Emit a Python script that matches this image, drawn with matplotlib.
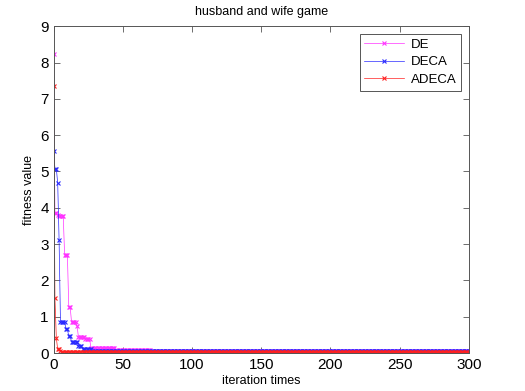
import numpy as np
import matplotlib
matplotlib.use("Agg")
import matplotlib.pyplot as plt

plt.rcParams['font.family'] = ['Liberation Sans', 'DejaVu Sans']

# Data as (value, run length) pairs; iterations 0..300
de_vals = [8.24, 3.85, 3.80, 3.77, 2.70, 1.27, 0.85, 0.75, 0.43, 0.40, 0.15, 0.13, 0.08, 0.05]
de_runs = [1, 2, 1, 4, 3, 2, 4, 1, 5, 4, 9, 9, 26, 230]

deca_vals = [5.57, 5.08, 4.68, 3.11, 0.85, 0.66, 0.46, 0.31, 0.20, 0.12, 0.06, 0.045]
deca_runs = [1, 2, 1, 1, 4, 2, 2, 5, 3, 7, 22, 251]

adeca_vals = [7.36, 1.52, 0.42, 0.10, 0.06, 0.025]
adeca_runs = [1, 1, 1, 2, 1, 295]

de = np.repeat(de_vals, de_runs)
deca = np.repeat(deca_vals, deca_runs)
adeca = np.repeat(adeca_vals, adeca_runs)
iters = np.arange(len(de))

x_ticks = [0, 50, 100, 150, 200, 250, 300]
y_ticks = [0, 1, 2, 3, 4, 5, 6, 7, 8, 9]

fig = plt.figure(figsize=(5.25, 3.91), dpi=100)
ax = fig.add_axes([0.102, 0.097, 0.791, 0.836])

kw = dict(marker='x', markersize=3.5, linewidth=0.5, markeredgewidth=0.8)
ax.plot(iters, de, color='#ff33ff', label='DE', **kw)
ax.plot(np.arange(len(deca)), deca, color='#2a2aff', label='DECA', **kw)
ax.plot(np.arange(len(adeca)), adeca, color='#ff2020', label='ADECA', **kw)

ax.set_xlim(0, 300)
ax.set_ylim(0, 9)
ax.set_xticks(x_ticks)
ax.set_yticks(y_ticks)
ax.tick_params(direction='in', top=True, right=True, labelsize=11, length=4, width=0.6, colors='#555555', labelcolor='black')
for s in ax.spines.values():
    s.set_color('#555555')
    s.set_linewidth(0.7)

ax.set_title('husband and wife game', fontsize=9, pad=8)
ax.set_xlabel('iteration times', fontsize=9, labelpad=2)
ax.set_ylabel('fitness value', fontsize=9, labelpad=4)

leg = ax.legend(loc='upper right', fontsize=9.5, fancybox=False, framealpha=1,
                edgecolor='#555555', handlelength=3.0, borderaxespad=0.6,
                labelspacing=0.4, handletextpad=0.5, borderpad=0.35)
leg.get_frame().set_linewidth(0.7)

fig.savefig('out.png', dpi=100)
